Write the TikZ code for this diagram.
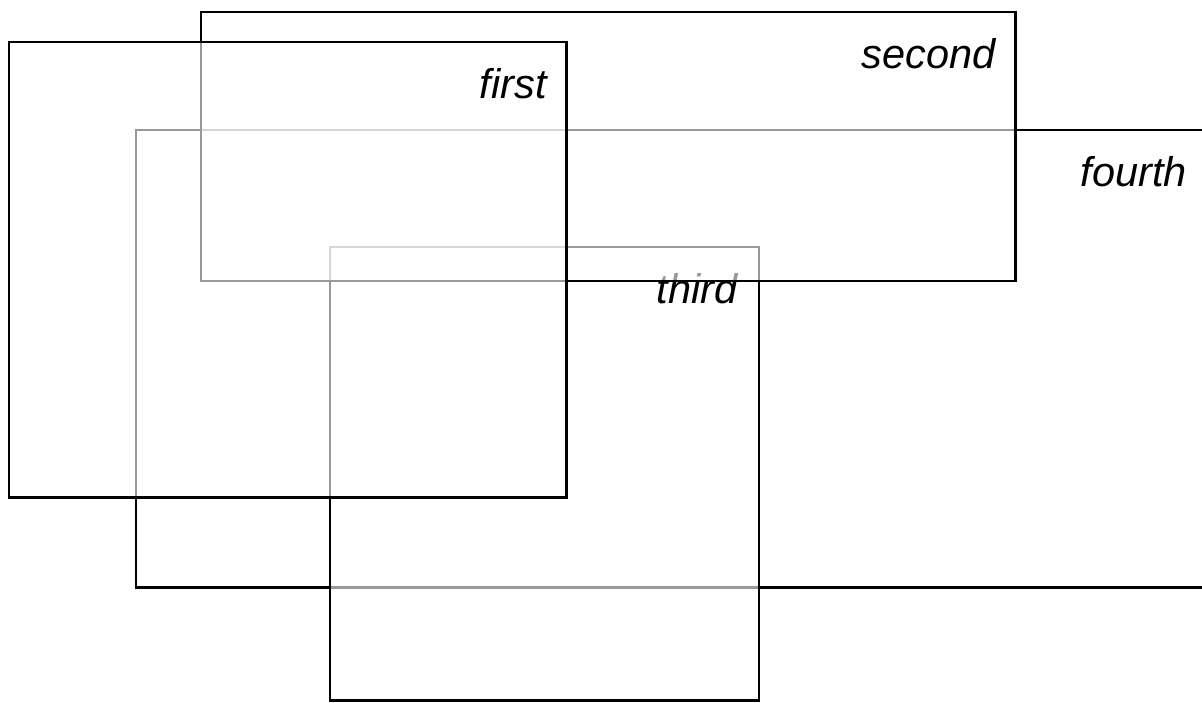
\documentclass[tikz,border=0pt]{standalone}
\usepackage{fontspec}
\setmainfont{Liberation Sans}
\begin{document}
\begin{tikzpicture}[x=0.01cm,y=-0.01cm,
  layer/.style={draw=black, line width=0.7pt, fill=white, fill opacity=0.6,
    draw opacity=1, text opacity=1, inner sep=0pt, outer sep=0pt, anchor=north west},
  lbl/.style={anchor=base east, inner sep=0pt, text opacity=1,
    font=\fontsize{11.8}{14}\selectfont\itshape}]
\useasboundingbox (0,0) rectangle (1202,702);
\clip (0,0) rectangle (1202,702);
% fourth (bottom layer)
\node[layer, minimum width=10.70cm, minimum height=4.57cm] (fourth) at (136,130) {};
\node[lbl] (fourthlbl) at ([xshift=-0.19cm, yshift=-0.56cm]fourth.north east) {fourth};
% third
\node[layer, minimum width=4.29cm, minimum height=4.53cm] (third) at (330,247) {};
\node[lbl] (thirdlbl) at ([xshift=-0.21cm, yshift=-0.56cm]third.north east) {third};
% second
\node[layer, minimum width=8.14cm, minimum height=2.69cm] (second) at (201,12) {};
\node[lbl] (secondlbl) at ([xshift=-0.19cm, yshift=-0.56cm]second.north east) {second};
% first (top layer)
\node[layer, minimum width=5.57cm, minimum height=4.55cm] (first) at (9,42) {};
\node[lbl] (firstlbl) at ([xshift=-0.19cm, yshift=-0.56cm]first.north east) {first};
\end{tikzpicture}
\end{document}
